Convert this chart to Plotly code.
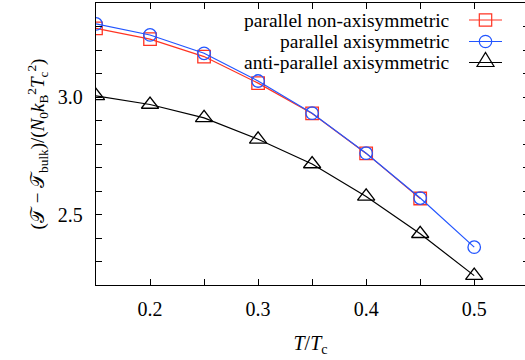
import plotly.graph_objects as go

# ---- data ----
t_nonaxi = [0.15, 0.20, 0.25, 0.30, 0.35, 0.40, 0.45]
f_nonaxi = [3.292, 3.246, 3.172, 3.059, 2.930, 2.760, 2.568]

t_axi = [0.15, 0.20, 0.25, 0.30, 0.35, 0.40, 0.45, 0.50]
f_axi = [3.311, 3.264, 3.186, 3.068, 2.931, 2.761, 2.570, 2.361]

t_anti = [0.15, 0.20, 0.25, 0.30, 0.35, 0.40, 0.45, 0.50]
f_anti = [3.005, 2.968, 2.911, 2.820, 2.715, 2.577, 2.418, 2.240]

labels = ["parallel non-axisymmetric", "parallel axisymmetric", "anti-parallel axisymmetric"]

x_tickvals = [0.2, 0.3, 0.4, 0.5]
x_ticktext = ["0.2", "0.3", "0.4", "0.5"]
y_tickvals = [2.5, 3.0]
y_ticktext = ["2.5", "3.0"]

RED = "#ff3322"
BLUE = "#2255ff"
BLACK = "#000000"
SERIF = "Liberation Serif"

fig = go.Figure()
series = [
    (t_nonaxi, f_nonaxi, RED, "square-open", 12.5),
    (t_axi, f_axi, BLUE, "circle-open", 12.5),
    (t_anti, f_anti, BLACK, "triangle-up-open", 15),
]
for i, (x, y, c, sym, sz) in enumerate(series):
    fig.add_trace(go.Scatter(
        x=x, y=y, mode="lines+markers", name=labels[i],
        line=dict(color=c, width=1.2),
        marker=dict(symbol=sym, size=sz, color=c, line=dict(width=1.3, color=c)),
        showlegend=False,
    ))

# invisible trace that carries the mirrored y ticks at the (cropped) right edge
fig.add_trace(go.Scatter(x=[None], y=[None], yaxis="y2", showlegend=False, hoverinfo="skip"))

fig.update_layout(
    width=525, height=360,
    margin=dict(l=96, r=0, t=3, b=75),
    paper_bgcolor="white", plot_bgcolor="white",
    xaxis=dict(
        range=[0.15, 0.547], showline=True, linecolor="black", linewidth=1.3,
        mirror="allticks", ticks="inside", ticklen=6, tickwidth=1, tickcolor="black",
        tickvals=x_tickvals, ticktext=x_ticktext, showgrid=False, zeroline=False,
        minor=dict(dtick=0.05, tick0=0.0, ticks="inside", ticklen=3, tickcolor="black", showgrid=False),
        tickfont=dict(family=SERIF, size=20, color="black"), ticklabelstandoff=6,
        title=dict(text="<i>T</i>/<i>T</i><sub>c</sub>", font=dict(family=SERIF, size=20, color="black"), standoff=16),
    ),
    yaxis=dict(
        range=[2.2, 3.4], showline=True, linecolor="black", linewidth=1.3,
        ticks="inside", ticklen=6, tickwidth=1, tickcolor="black",
        tickvals=y_tickvals, ticktext=y_ticktext, showgrid=False, zeroline=False,
        minor=dict(dtick=0.1, tick0=0.0, ticks="inside", ticklen=6, tickcolor="black", showgrid=False),
        tickfont=dict(family=SERIF, size=20, color="black"), ticklabelstandoff=8,
        title=dict(text="(𝒯 − 𝒯<sub>bulk</sub>)/(<i>N</i><sub>0</sub><i>k</i><sub>B</sub><sup>2</sup><i>T</i><sub>c</sub><sup>2</sup>)",
                   font=dict(family=SERIF, size=19, color="black"), standoff=8),
    ),
    yaxis2=dict(
        range=[2.2, 3.4], overlaying="y", side="right", anchor="x",
        showline=False, ticks="inside", ticklen=2, tickcolor="black", dtick=0.1, tick0=0.0,
        showticklabels=False, showgrid=False, zeroline=False,
    ),
)

# legend: right-aligned text with line+marker samples to its right (gnuplot style)
W, H = 525.0, 360.0
ml, mt, mb = 96.0, 3.0, 75.0
pw, ph = W - ml, H - mt - mb
def px_to_paper(xp, yp):
    return (xp - ml) / pw, 1 - (yp - mt) / ph

rows_y = [20.0, 41.5, 62.5]
text_right = 452.0
sample_x0, sample_x1 = 469.0, 502.0
colors = [RED, BLUE, BLACK]
for i, lab in enumerate(labels):
    xt, yt = px_to_paper(text_right, rows_y[i])
    fig.add_annotation(
        text=lab, xref="paper", yref="paper", x=xt, y=yt,
        xanchor="right", yanchor="middle", showarrow=False,
        font=dict(family=SERIF, size=19.5, color="black"),
    )
    xa, ya = px_to_paper((sample_x0 + sample_x1) / 2, rows_y[i])
    c = colors[i]
    common = dict(xref="paper", yref="paper", xsizemode="pixel", ysizemode="pixel",
                  xanchor=xa, yanchor=ya, line=dict(color=c, width=1.2))
    fig.add_shape(type="line", x0=-16.5, x1=16.5, y0=0, y1=0, **common)
    if i == 0:
        fig.add_shape(type="rect", x0=-6.2, x1=6.2, y0=-6.2, y1=6.2, **common)
    elif i == 1:
        fig.add_shape(type="circle", x0=-6.2, x1=6.2, y0=-6.2, y1=6.2, **common)
    else:
        fig.add_shape(type="path", path="M -8.5 -4 L 8.5 -4 L 0 10 Z", **common)

fig.write_html("out.html")
